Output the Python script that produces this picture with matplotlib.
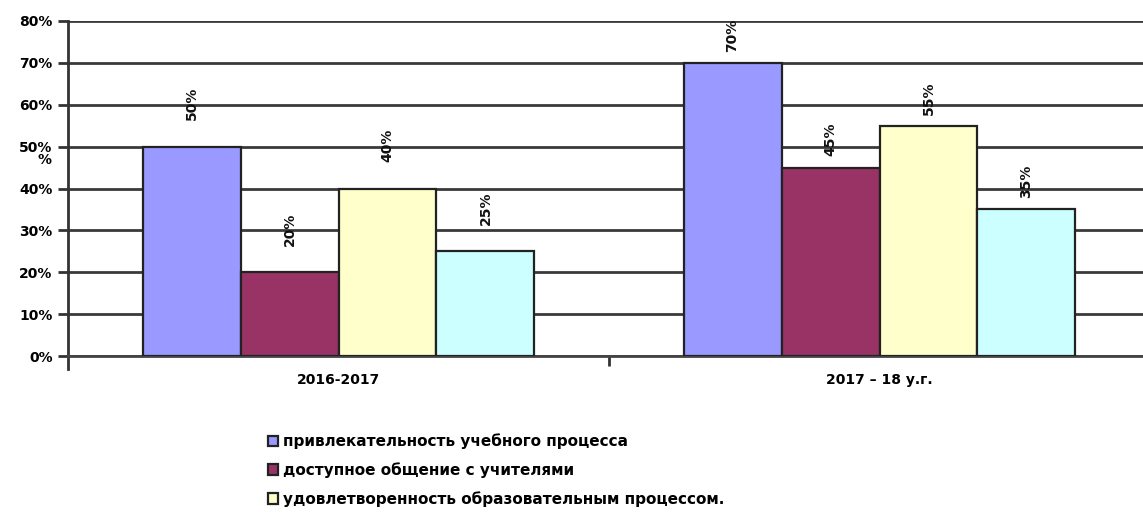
import numpy as np
import matplotlib.pyplot as plt
from matplotlib.ticker import PercentFormatter

plt.rcParams['font.family'] = ['Liberation Sans Narrow', 'DejaVu Sans']
plt.rcParams['font.weight'] = 'bold'

# Data
categories = ['2016-2017', '2017 – 18 у.г.']
series_names = ['привлекательность учебного процесса',
                'доступное общение с учителями',
                'удовлетворенность образовательным процессом.',
                '']
values = [[50, 70],
          [20, 45],
          [40, 55],
          [25, 35]]
colors = ['#9999FF', '#993366', '#FFFFCC', '#CCFFFF']

fig = plt.figure(figsize=(11.43, 5.12), dpi=100)
ax = fig.add_axes([68 / 1143, 1 - 356 / 512, 1082 / 1143, 335 / 512])

n = len(values)
width = 0.181
x = np.arange(len(categories))
label_offsets = [19, 8]

bars = []
for i in range(n):
    pos = x + (i - (n - 1) / 2) * width
    b = ax.bar(pos, values[i], width, color=colors[i], edgecolor='#222222',
               linewidth=1.6, zorder=3, label=series_names[i])
    bars.append(b)
    for j, v in enumerate(values[i]):
        ax.annotate(f'{v}%', (pos[j], v), xytext=(0, label_offsets[j]),
                    textcoords='offset points', rotation=90, ha='center',
                    va='bottom', fontsize=10, fontweight='bold', color='#111111')

ax.set_ylim(0, 80)
ax.set_xlim(-0.5, 1.5)
ax.set_yticks(np.arange(0, 81, 10))
ax.yaxis.set_major_formatter(PercentFormatter(decimals=0))
ax.grid(axis='y', color='#3a3a3a', linewidth=2, zorder=0)
ax.set_axisbelow(True)

for s in ['top', 'right']:
    ax.spines[s].set_visible(False)
ax.spines['left'].set_linewidth(2)
ax.spines['left'].set_color('#333333')
ax.spines['left'].set_bounds(-3, 80)
ax.spines['bottom'].set_linewidth(2)
ax.spines['bottom'].set_color('#444444')

ax.tick_params(axis='y', length=7, width=2, color='#333333', labelsize=10, pad=4)
ax.set_xticks(x)
ax.set_xticklabels(categories, fontsize=10, fontweight='bold')
ax.tick_params(axis='x', length=0, pad=12)
ax.set_xticks([0.5], minor=True)
ax.tick_params(axis='x', which='minor', length=7, width=2, color='#333333')

fig.text(45 / 1143, 1 - 160 / 512, '%', fontsize=10, fontweight='bold',
         ha='center', va='center')

handles = bars[:3]
fig.legend(handles, series_names[:3], loc='upper left',
           bbox_to_anchor=(260 / 1143, 1 - 426 / 512), frameon=False,
           handlelength=0.7, handleheight=0.7, handletextpad=0.3,
           labelspacing=0.85, borderpad=0, prop={'weight': 'bold', 'size': 11})

fig.savefig('out.png', dpi=100)
